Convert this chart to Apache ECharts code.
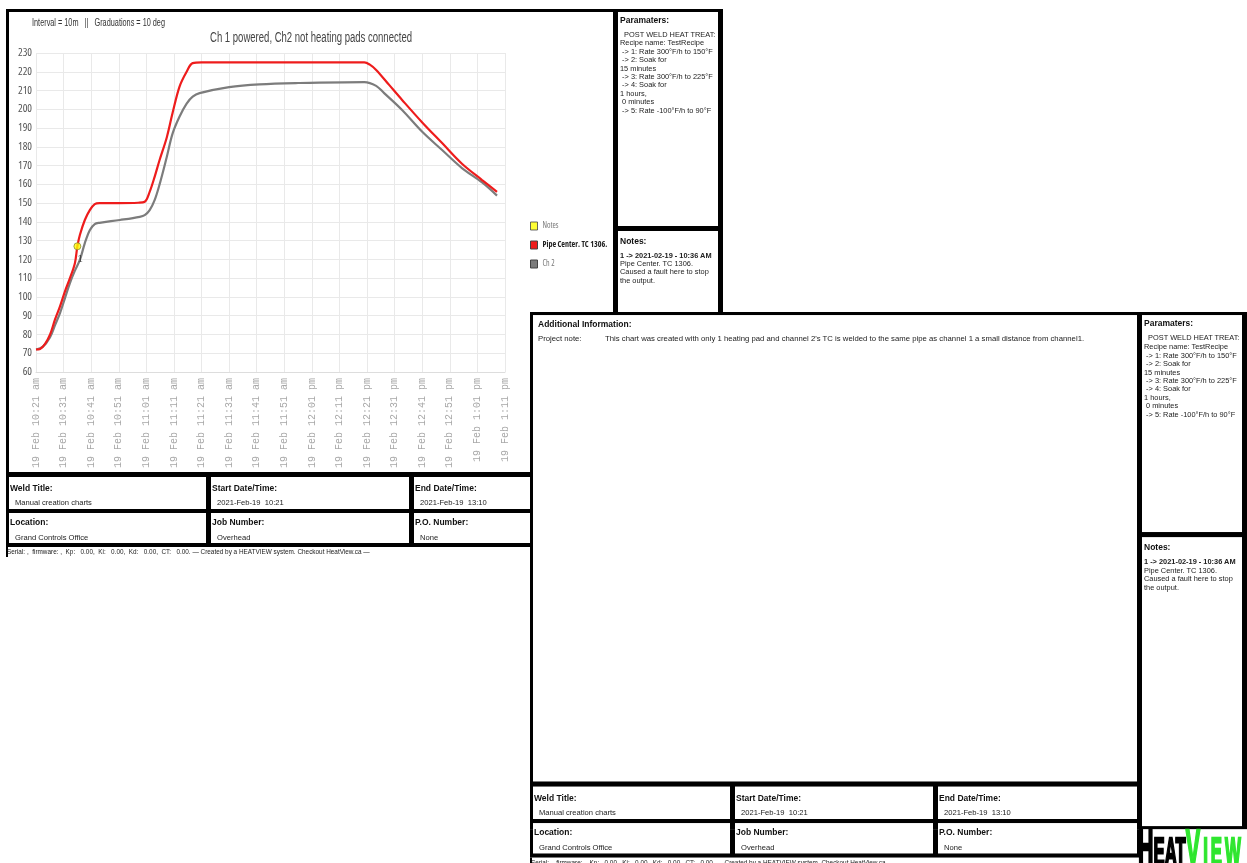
<!DOCTYPE html>
<html>
<head>
<meta charset="utf-8">
<title>Weld heat treatment report</title>
<script src="https://cdn.jsdelivr.net/npm/echarts@6/dist/echarts.min.js"></script>
<style>
  html, body { margin: 0; padding: 0; background: #fff; }
  body { width: 1247px; height: 863px; overflow: hidden; position: relative;
         font-family: Arial, "Liberation Sans", sans-serif; color: #111; }
  .page { position: absolute; width: 717px; height: 552px; transform-origin: 0 0; }
  .blk  { position: absolute; background: #000; }
  .cell { position: absolute; background: #fff; overflow: hidden; }
  .lbl  { position: absolute; font-weight: bold; font-size: 8.5px; line-height: 10px; white-space: pre; color: #111; filter: grayscale(1); }
  .txt  { position: absolute; font-size: 7.4px; line-height: 8.4px; white-space: pre; color: #222; filter: grayscale(1); }
  .foot { position: absolute; font-size: 6.4px; line-height: 7px; white-space: pre; color: #222; filter: grayscale(1); }
  .logo { position: absolute; white-space: nowrap; font-weight: bold; line-height: 1;
          transform-origin: 0 0; font-family: "Liberation Sans", Arial, sans-serif; }
  #chart { position: absolute; left: 0; top: 0; width: 604px; height: 460px; }
</style>
</head>
<body>
<div class="page" id="page1" style="left:6px; top:9px; z-index:1;"></div>
<div class="page" id="page2" style="left:530px; top:312px; z-index:2; background:#fff; transform:scaleY(1.014);"></div>

<script>
// ---- chart data -------------------------------------------------------
const tickLabels = [
  '19 Feb 10:21 am', '19 Feb 10:31 am', '19 Feb 10:41 am', '19 Feb 10:51 am',
  '19 Feb 11:01 am', '19 Feb 11:11 am', '19 Feb 11:21 am', '19 Feb 11:31 am',
  '19 Feb 11:41 am', '19 Feb 11:51 am', '19 Feb 12:01 pm', '19 Feb 12:11 pm',
  '19 Feb 12:21 pm', '19 Feb 12:31 pm', '19 Feb 12:41 pm', '19 Feb 12:51 pm',
  '19 Feb 1:01 pm', '19 Feb 1:11 pm'
];

// minutes after 10:21 am
const pipeMinutes = [0, 1.5, 3.3, 5.1, 6.9, 8.7, 10.5, 12.3, 14.1, 15, 15.9, 17.7, 19.5, 21.3, 23,
  30, 37, 39.4, 41.2, 43, 44.8, 47.4, 49.5, 52, 54.6, 56.8, 60, 80, 100, 119, 121, 123.3,
  128, 132.7, 140, 147.2, 154.4, 161.7, 167.1];
const pipeTemps = [72, 72.3, 75, 80, 88, 95, 103, 110, 118, 127, 133, 141, 146.3, 149.5, 150,
  150, 150.2, 150.7, 156, 164, 173, 185, 198, 212, 220, 224.6, 225, 225, 225, 225, 223.8, 221,
  213, 205, 193, 182, 171, 162.3, 156];

const ch2Minutes = [0, 2.5, 5.1, 6.9, 8.7, 10.5, 12.3, 14.1, 15.9, 17.7, 19.5, 21.3, 23,
  30.4, 37.6, 39.4, 41.2, 43, 44.8, 47.4, 49.5, 52, 54.6, 56.8, 59.3, 70, 81, 95, 119, 123.3,
  126.2, 132.7, 140, 147.2, 154.4, 161.7, 167.1];
const ch2Temps = [72, 73.5, 78.6, 85, 91.4, 99.4, 107.4, 114, 119.7, 128.7, 135.6, 138.8, 139.5,
  141, 142.7, 143.6, 146.3, 151.6, 160, 174.6, 187, 196, 203, 206.7, 208.6, 211.8, 213.3, 214,
  214.5, 212.5, 208.6, 199.6, 188, 178.3, 168.7, 161, 154];

const noteMinutes = [15];
const noteTemps = [127];
const noteIds = ['1'];

// ---- report text --------------------------------------------------------
const paramLines = ['  POST WELD HEAT TREAT:', 'Recipe name: TestRecipe', ' -> 1: Rate 300°F/h to 150°F',
  ' -> 2: Soak for', '15 minutes', ' -> 3: Rate 300°F/h to 225°F', ' -> 4: Soak for', '1 hours,',
  ' 0 minutes', ' -> 5: Rate -100°F/h to 90°F'];
const noteHead = '1 -> 2021-02-19 - 10:36 AM';
const noteLines = ['Pipe Center. TC 1306.', 'Caused a fault here to stop', 'the output.'];
const infoLabels = ['Weld Title:', 'Start Date/Time:', 'End Date/Time:', 'Location:', 'Job Number:', 'P.O. Number:'];
const infoValues = ['Manual creation charts', '2021-Feb-19  10:21', '2021-Feb-19  13:10', 'Grand Controls Office', 'Overhead', 'None'];
const footerText = 'Serial: ,  firmware: ,  Kp:   0.00,  Ki:   0.00,  Kd:   0.00,  CT:   0.00. \u2014 Created by a HEATVIEW system. Checkout HeatView.ca \u2014';
const projectNote = "This chart was created with only 1 heating pad and channel 2's TC is welded to the same pipe as channel 1 a small distance from channel1.";

// ---- page layout helpers ------------------------------------------------
function px(v) { return v + 'px'; }
function add(parent, cls, css, text) {
  const d = document.createElement('div');
  d.className = cls;
  Object.assign(d.style, css || {});
  if (text != null) d.textContent = text;
  parent.appendChild(d);
  return d;
}
function box(parent, cls, x, y, w, h) {
  return add(parent, cls, { left: px(x), top: px(y), width: px(w), height: px(h) });
}

function buildPage(page) {
  // black frame, cells sit on top of it
  box(page, 'blk', 0, 0, 717, 510);
  box(page, 'blk', 0, 510, 610, 28);
  box(page, 'blk', 0, 538, 2, 10);

  const main = box(page, 'cell', 3, 3, 604, 460);

  const params = box(page, 'cell', 612, 3, 100, 214);
  add(params, 'lbl', { left: '2px', top: '3px' }, 'Paramaters:');
  paramLines.forEach((t, i) => add(params, 'txt', { left: '2px', top: px(19 + i * 8.4) }, t));

  const notes = box(page, 'cell', 612, 222, 100, 285);
  add(notes, 'lbl', { left: '2px', top: '5px' }, 'Notes:');
  add(notes, 'txt', { left: '2px', top: '21px', fontWeight: 'bold' }, noteHead);
  noteLines.forEach((t, i) => add(notes, 'txt', { left: '2px', top: px(29 + i * 8.4) }, t));

  const colX = [3, 205, 408], colW = [197, 198, 199];
  for (let r = 0; r < 2; r++) {
    for (let c = 0; c < 3; c++) {
      const k = r * 3 + c;
      const cell = box(page, 'cell', colX[c], r ? 504 : 468, colW[c], r ? 30 : 32);
      add(cell, 'lbl', { left: '1px', top: px(r ? 4 : 6) }, infoLabels[k]);
      add(cell, 'txt', { left: '6px', top: px(r ? 21 : 22), fontSize: '7.6px' }, infoValues[k]);
    }
  }
  add(page, 'foot', { left: '1px', top: '539px' }, footerText);
  return main;
}

// first page: the temperature chart
const page1 = document.getElementById('page1');
const chartCell = buildPage(page1);
const chartDiv = add(chartCell, '', {}, null);
chartDiv.id = 'chart';

// second page: project information
const page2 = document.getElementById('page2');
const infoCell = buildPage(page2);
add(infoCell, 'lbl', { left: '5px', top: '4px' }, 'Additional Information:');
add(infoCell, 'txt', { left: '5px', top: '20px', fontSize: '7.75px' }, 'Project note:');
add(infoCell, 'txt', { left: '72px', top: '20px', fontSize: '7.75px' }, projectNote);
const logo = add(page2, 'logo', { left: '608px', top: '503px', transform: 'scaleX(0.43)' });
const logoInk = 'color:#000;-webkit-text-stroke:2.5px #000;';
const logoGreen = 'color:#2fe62f;-webkit-text-stroke:2.5px #2fe62f;letter-spacing:7px;';
logo.innerHTML =
  '<span style="font-size:50px;' + logoInk + '">H</span><span style="font-size:39px;' + logoInk + '">EAT</span>' +
  '<span style="font-size:50px;' + logoGreen + '">V</span><span style="font-size:39px;' + logoGreen + '">IEW</span>';

// ---- fonts --------------------------------------------------------------
const measureCtx = document.createElement('canvas').getContext('2d');
function textWidth(text, font) { measureCtx.font = font; return measureCtx.measureText(text).width; }
const probe = 'Pipe Center. TC 1306. 0123456789';
const baseWidth = textWidth(probe, '20px "Liberation Sans"');
// [family, stretch keyword]; the first one that renders clearly narrower than Arial wins
const condensedCandidates = [
  ['Liberation Sans Narrow', ''], ['DejaVu Sans Condensed', ''],
  ['Open Sans', 'condensed'], ['Roboto Condensed', ''], ['Roboto', '']
];
const narrowPick = condensedCandidates.find(([fam, st]) =>
  textWidth(probe, (st ? st + ' ' : '') + '20px "' + fam + '", monospace') < baseWidth * 0.9) || null;
const narrowName = narrowPick ? narrowPick[0] : 'Liberation Sans';
const narrowStretch = narrowPick && narrowPick[1] ? narrowPick[1] : 'normal';
const stretchPrefix = narrowStretch === 'normal' ? '' : narrowStretch + ' ';

// legend text size: the bold series name has to fit in front of the divider
const legendSize = (() => {
  const w10 = textWidth('Pipe Center. TC 1306.', stretchPrefix + 'bold 10px "' + narrowName + '"');
  return Math.max(7.5, Math.min(10.5, Math.floor(10 * 68 / w10 * 2) / 2));
})();

// text squeezed horizontally into a given width
function fittedText(text, x, y, width, size, color) {
  const w = textWidth(text, size + 'px "Liberation Sans"');
  return {
    type: 'text', x: x, y: y, scaleX: width / w, silent: true,
    style: { text: text, fontSize: size, fontFamily: 'Liberation Sans', fill: color, verticalAlign: 'middle' }
  };
}

// ---- chart --------------------------------------------------------------
const zip = (xs, ys) => xs.map((x, i) => [x, ys[i]]);
const chart = echarts.init(chartDiv, null, { renderer: 'canvas' });
chart.setOption({
  animation: false,
  textStyle: { fontFamily: narrowName },
  graphic: [
    fittedText('Interval = 10m   ||   Graduations = 10 deg', 23, 11, 133, 10, '#333'),
    fittedText('Ch 1 powered, Ch2 not heating pads connected', 201, 26, 202, 14, '#444')
  ],
  grid: { left: 27, right: 108, top: 41, bottom: 100, containLabel: false, outerBoundsMode: 'none' },
  legend: {
    orient: 'vertical', left: 516, top: 203, itemGap: 7, itemWidth: 7, itemHeight: 8, icon: 'rect',
    itemStyle: { borderColor: '#444', borderWidth: 1 },
    textStyle: { fontSize: legendSize, fontFamily: narrowName, fontStyle: narrowStretch, lineHeight: 12 },
    data: [
      { name: 'Notes', textStyle: { color: '#777' } },
      { name: 'Pipe Center. TC 1306.', textStyle: { color: '#222', fontWeight: 'bold' } },
      { name: 'Ch 2', textStyle: { color: '#777' } }
    ]
  },
  xAxis: {
    type: 'value', min: 0, max: 170, interval: 10,
    axisLine: { show: true, lineStyle: { color: '#ddd' } },
    axisTick: { show: false },
    axisLabel: {
      rotate: 90, margin: 6, color: '#a8a8a8', fontSize: 10,
      fontFamily: '"Liberation Mono", "DejaVu Sans Mono", monospace',
      formatter: v => tickLabels[Math.round(v / 10)] || ''
    },
    splitLine: { show: true, lineStyle: { color: '#e9e9e9', width: 1 } }
  },
  yAxis: {
    type: 'value', min: 60, max: 230, interval: 10,
    axisLine: { show: false }, axisTick: { show: false },
    axisLabel: { color: '#555', fontSize: 11, margin: 4, fontFamily: narrowName, fontStyle: narrowStretch },
    splitLine: { show: true, lineStyle: { color: '#e9e9e9', width: 1 } }
  },
  series: [
    {
      name: 'Pipe Center. TC 1306.', type: 'line', data: zip(pipeMinutes, pipeTemps),
      smooth: 0.35, showSymbol: false, z: 3,
      itemStyle: { color: '#ee1c1c' }, lineStyle: { color: '#ee1c1c', width: 2.2 }
    },
    {
      name: 'Ch 2', type: 'line', data: zip(ch2Minutes, ch2Temps),
      smooth: 0.35, showSymbol: false, z: 2,
      itemStyle: { color: '#7c7c7c' }, lineStyle: { color: '#7c7c7c', width: 2.2 }
    },
    {
      name: 'Notes', type: 'scatter', z: 5, symbolSize: 7,
      data: noteMinutes.map((m, i) => [m, noteTemps[i]]),
      itemStyle: { color: '#ffff00', borderColor: '#8a8a3a', borderWidth: 1 },
      label: {
        show: true, position: 'bottom', offset: [3, -1], color: '#333', fontSize: 10,
        fontFamily: '"DejaVu Serif", serif', formatter: p => noteIds[p.dataIndex]
      }
    }
  ]
});
</script>
</body>
</html>
